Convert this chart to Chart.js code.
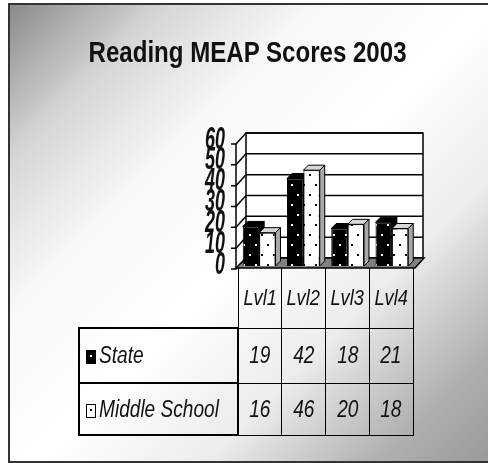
<!DOCTYPE html>
<html>
<head>
<meta charset="utf-8">
<script src="https://cdn.jsdelivr.net/npm/chart.js@4.4.1/dist/chart.umd.min.js"></script>
<style>
  html, body { margin: 0; width: 488px; height: 463px; overflow: hidden; background: #fff;
         font-family: "Liberation Sans", Arial, sans-serif; color: #111; }
  #bg { position: absolute; left: 8px; top: 3px; width: 480px; height: 460px;
        background: linear-gradient(135deg, #888 0%, #d6d6d6 17%, #f8f8f8 33%, #fff 52%, #ececec 70%, #b0b0b0 88%, #999 100%); }
  .ln { position: absolute; background: #333; }
  #chart { position: absolute; left: 0; top: 0; }
  #title { position: absolute; left: 0; top: 38px; width: 496px; text-align: center;
           font-size: 29px; line-height: 29px; font-weight: bold; }
  .sq { display: inline-block; transform: scaleX(0.83); white-space: nowrap; }
  #tbl { position: absolute; left: 78px; top: 268px; width: 334px; border-collapse: collapse; table-layout: fixed; }
  #tbl td { padding: 0; font-style: italic; font-size: 23px; text-align: center; white-space: nowrap; overflow: visible; }
  #tbl td.lab { text-align: left; font-size: 23px; }
  #tbl tr.head td { font-size: 22px; }
  .sw { display: inline-block; width: 8px; height: 12px; border: 1px solid #000; vertical-align: -1px;
        margin-left: 6px; margin-right: 3px; position: relative; }
  .sw::after { content: ""; position: absolute; left: 3px; top: 4px; width: 2px; height: 2px; }
  .sw.state { background: #000; }
  .sw.state::after { background: #fff; }
  .sw.ms { background: #fff; }
  .sw.ms::after { background: #000; }
</style>
</head>
<body>
<div id="bg"></div>
<div class="ln" style="left:8px;top:3px;width:480px;height:2px"></div>
<div class="ln" style="left:8px;top:3px;width:2px;height:460px"></div>
<div class="ln" style="left:8px;top:461px;width:480px;height:2px"></div>
<canvas id="chart" width="488" height="463"></canvas>
<div id="title"><span class="sq">Reading MEAP Scores 2003</span></div>
<table id="tbl"></table>
<script>
const categories = ['Lvl1', 'Lvl2', 'Lvl3', 'Lvl4'];
const seriesNames = ['State', 'Middle School'];
const stateScores = [19, 42, 18, 21];
const middleScores = [16, 46, 20, 18];
const yTicks = [0, 10, 20, 30, 40, 50, 60];

// dotted fills like the old clip-art chart
function dotPattern(bg, dot) {
    const c = document.createElement('canvas');
    c.width = 12; c.height = 20;
    const g = c.getContext('2d');
    g.fillStyle = bg; g.fillRect(0, 0, 12, 20);
    g.fillStyle = dot;
    g.fillRect(3, 4, 2, 2);
    g.fillRect(9, 14, 2, 2);
    return g.createPattern(c, 'repeat');
}

const ctx0 = document.getElementById('chart').getContext('2d');
const DX = 9, DY = 8, BD = 5;

const fake3d = {
    id: 'fake3d',
    beforeDatasetsDraw(chart) {
        const ctx = chart.ctx, a = chart.chartArea, y = chart.scales.y;
        const base = y.getPixelForValue(0), top = y.getPixelForValue(60);
        ctx.save();
        ctx.lineWidth = 1.5;
        ctx.strokeStyle = '#000';
        // back wall
        ctx.fillStyle = '#fff';
        ctx.fillRect(a.left + DX, top - DY, a.right - a.left, base - top);
        ctx.strokeRect(a.left + DX, top - DY, a.right - a.left, base - top);
        // gridlines on the wall, plus tick diagonals
        yTicks.forEach(v => {
            const p = y.getPixelForValue(v);
            ctx.beginPath();
            ctx.moveTo(a.left + DX, p - DY); ctx.lineTo(a.right + DX, p - DY);
            ctx.stroke();
            ctx.beginPath();
            ctx.moveTo(a.left - 6, p + 3); ctx.lineTo(a.left - 1, p + 3);
            ctx.lineTo(a.left + DX, p - DY);
            ctx.stroke();
        });
        // side axis line
        ctx.beginPath();
        ctx.moveTo(a.left - 1, top + 3); ctx.lineTo(a.left - 1, base + 3);
        ctx.stroke();
        // floor
        ctx.fillStyle = '#808080';
        ctx.beginPath();
        ctx.moveTo(a.left - 1, base + 2); ctx.lineTo(a.right + 1, base + 2);
        ctx.lineTo(a.right + DX + 1, base - DY); ctx.lineTo(a.left + DX, base - DY);
        ctx.closePath(); ctx.fill(); ctx.stroke();
        // top and side faces of the bars
        const faces = [['#000', '#000'], ['#d8d8d8', '#a8a8a8']];
        chart.data.datasets.forEach((ds, i) => {
            chart.getDatasetMeta(i).data.forEach(bar => {
                const l = bar.x - bar.width / 2, r = bar.x + bar.width / 2;
                ctx.lineWidth = 1;
                ctx.fillStyle = faces[i][0];
                ctx.beginPath();
                ctx.moveTo(l, bar.y); ctx.lineTo(l + BD, bar.y - BD);
                ctx.lineTo(r + BD, bar.y - BD); ctx.lineTo(r, bar.y);
                ctx.closePath(); ctx.fill(); ctx.stroke();
                ctx.fillStyle = faces[i][1];
                ctx.beginPath();
                ctx.moveTo(r, bar.y); ctx.lineTo(r + BD, bar.y - BD);
                ctx.lineTo(r + BD, bar.base - BD); ctx.lineTo(r, bar.base);
                ctx.closePath(); ctx.fill(); ctx.stroke();
            });
        });
        ctx.restore();
    },
    afterDraw(chart) {
        // squeezed tick numbers
        const ctx = chart.ctx, y = chart.scales.y;
        ctx.save();
        ctx.fillStyle = '#111';
        y.ticks.forEach(t => {
            ctx.save();
            ctx.translate(225, y.getPixelForValue(t.value) - 1);
            ctx.scale(0.58, 1);
            ctx.font = 'italic bold 31px "Liberation Sans", Arial';
            ctx.textAlign = 'right';
            ctx.textBaseline = 'middle';
            ctx.fillText(String(t.value), 0, 0);
            ctx.restore();
        });
        ctx.restore();
    }
};

new Chart(ctx0, {
    type: 'bar',
    data: {
        labels: categories,
        datasets: [{
            label: seriesNames[0],
            data: stateScores,
            backgroundColor: dotPattern('#000', '#fff'),
            borderColor: '#000',
            borderWidth: 1
        }, {
            label: seriesNames[1],
            data: middleScores,
            backgroundColor: dotPattern('#fff', '#000'),
            borderColor: '#000',
            borderWidth: 1
        }]
    },
    options: {
        responsive: false,
        animation: false,
        devicePixelRatio: 1,
        layout: { padding: { left: 209, right: 74, top: 141, bottom: 197 } },
        plugins: { legend: { display: false }, tooltip: { enabled: false } },
        datasets: { bar: { categoryPercentage: 0.74, barPercentage: 1.0 } },
        scales: {
            x: { display: false },
            y: {
                min: 0, max: 60,
                ticks: { stepSize: 10, display: false },
                grid: { display: false },
                border: { display: false },
                afterFit: s => { s.width = 28; }
            }
        }
    },
    plugins: [fake3d]
});

// data table under the plot
const tbl = document.getElementById('tbl');
const colW = 43.75;
let html = '<colgroup><col style="width:159px">' + categories.map(() => `<col style="width:${colW}px">`).join('') + '</colgroup>';
html += '<tr class="head" style="height:60px"><td></td>' + categories.map(c =>
    `<td style="border-left:1.5px solid #000;border-right:1.5px solid #000"><span class="sq">${c}</span></td>`).join('') + '</tr>';
[[stateScores, 'state', 55], [middleScores, 'ms', 52]].forEach(([vals, cls, h], i) => {
    html += `<tr style="height:${h}px">`;
    html += `<td class="lab" style="border:2px solid #000"><span class="sw ${cls}"></span><span class="sq" style="transform-origin:left">${seriesNames[i]}</span></td>`;
    html += vals.map(v => `<td style="border:1.5px solid #000"><span class="sq">${v}</span></td>`).join('');
    html += '</tr>';
});
tbl.innerHTML = html;
</script>
</body>
</html>
